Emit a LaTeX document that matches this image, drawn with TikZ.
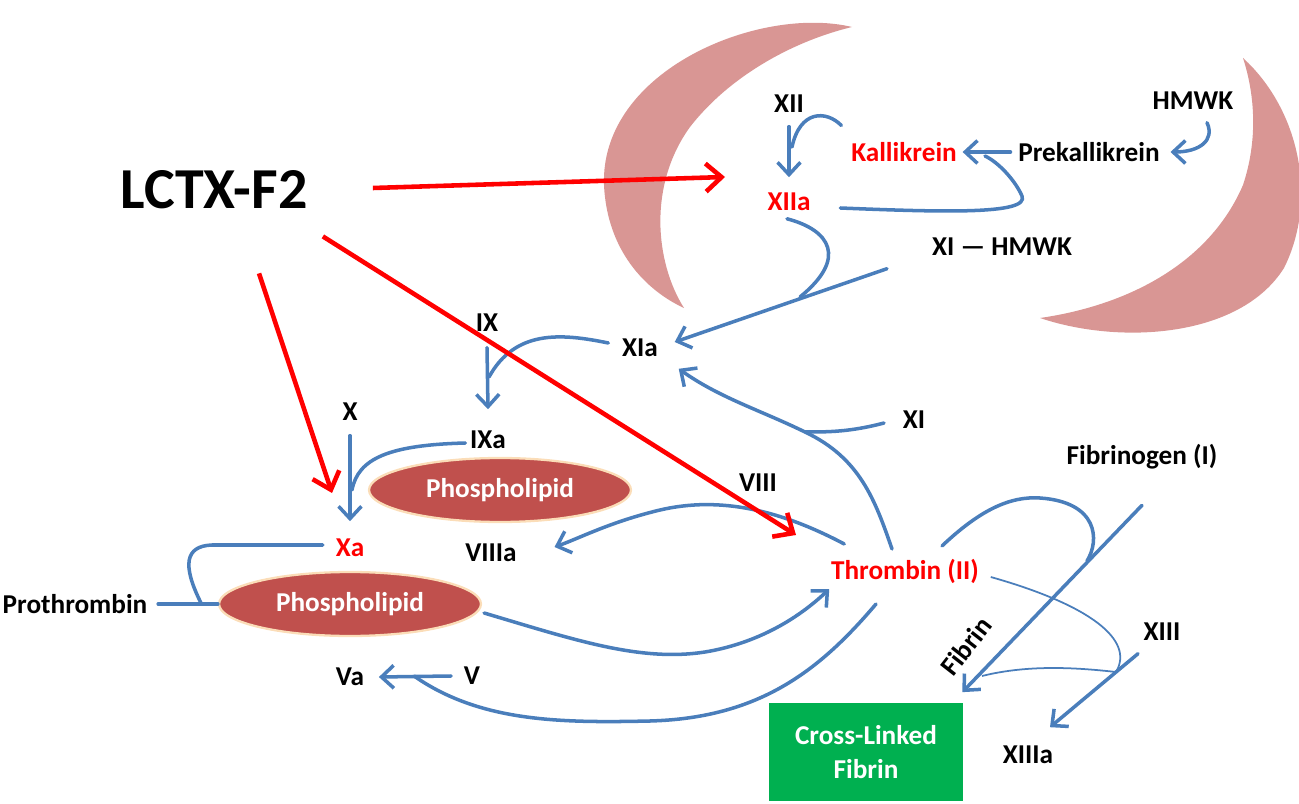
\documentclass[tikz,border=0pt]{standalone}
\usepackage{fontspec}
\setmainfont{Carlito}
\usepackage{tikz}
\usetikzlibrary{arrows.meta,shapes.geometric}

\definecolor{blueline}{HTML}{4A7EBB}
\definecolor{moon}{HTML}{D99694}
\definecolor{lipidred}{HTML}{C0504D}
\definecolor{lipidedge}{HTML}{FBDDB8}
\definecolor{fibgreen}{HTML}{00B050}

\begin{document}
\begin{tikzpicture}[x=0.02cm,y=-0.02cm,
  >={Straight Barb[length=7pt,width=13pt]},
  lab/.style={font=\fontsize{15.5}{18}\selectfont\bfseries, inner sep=2pt},
  hot/.style={lab, text=red},
  flow/.style={draw=blueline, line width=2pt, line cap=round},
  thinflow/.style={draw=blueline, line width=1pt},
  tox/.style={draw=red, line width=2.6pt, -{Straight Barb[length=9pt,width=16pt]}},
  lipid/.style={ellipse, fill=lipidred, draw=lipidedge, line width=1.3pt,
    minimum width=5.24cm, minimum height=1.28cm, text=white,
    font=\fontsize{15.5}{18}\selectfont\bfseries}]

\useasboundingbox (0,0) rectangle (1299,804);

% the two crescents
\fill[moon] (852,27) .. controls (760,5) and (600,70) .. (604,185)
  .. controls (607,250) and (645,290) .. (684,308)
  .. controls (655,262) and (648,185) .. (690,127)
  .. controls (728,78) and (790,42) .. cycle;
\fill[moon] (1243,58) .. controls (1300,110) and (1318,200) .. (1284,268)
  .. controls (1240,338) and (1120,345) .. (1040,318)
  .. controls (1130,305) and (1210,262) .. (1243,185)
  .. controls (1258,140) and (1255,95) .. cycle;

\node[font=\fontsize{33}{36}\selectfont\bfseries] (LCTX) at (214,190) {LCTX-F2};

\node[lab] (XII) at (789,104) {XII};
\node[hot] (Kall) at (904,152) {Kallikrein};
\node[lab] (Prek) at (1089,152) {Prekallikrein};
\node[lab] (HMWK) at (1193,101) {HMWK};
\node[hot] (XIIa) at (789,202) {XIIa};
\node[lab] (XIHMWK) at (1002,247) {XI — HMWK};

\node[lab] (IX) at (487,323) {IX};
\node[lab] (XIa) at (640,348) {XIa};
\node[lab] (X) at (350,412) {X};
\node[lab] (IXa) at (488,440) {IXa};
\node[lipid] (Phos1) at (500,490) {Phospholipid};
\node[hot] (Xa) at (350,548) {Xa};
\node[lab] (VIIIa) at (491,553) {VIIIa};
\node[lab] (VIII) at (758,483) {VIII};
\node[lab] (XI) at (914,420) {XI};
\node[lab] (Fibg) at (1142,457) {Fibrinogen (I)};
\node[hot] (Thr) at (905,571) {Thrombin (II)};
\node[lab] (Proth) at (75,604) {Prothrombin};
\node[lipid] (Phos2) at (350,604) {Phospholipid};
\node[lab] (Va) at (350,677) {Va};
\node[lab] (V) at (472,676) {V};
\node[lab] (XIII) at (1162,632) {XIII};
\node[lab, rotate=52, inner sep=0pt] (Fibrin) at (966,646) {Fibrin};
\node[fill=fibgreen, minimum width=3.88cm, minimum height=1.98cm, text=white, align=center,
  font=\fontsize{15.5}{19}\selectfont\bfseries] (CLF) at (866,752) {Cross-Linked\\Fibrin};
\node[lab] (XIIIa) at (1028,755) {XIIIa};

% junctions
\coordinate (kx) at (792,147);
\coordinate (kp) at (985,156);
\coordinate (xj) at (800,297);
\coordinate (ij) at (489,377);
\coordinate (xaj) at (352,490);
\coordinate (pj) at (201,603);
\coordinate (xk) at (805,432);
\coordinate (vj) at (414,676);
\coordinate (fj) at (1087,561);
\coordinate (tj) at (1116,672);
\coordinate (fk) at (982,676);

% contact pathway
\draw[flow,->] ([shift={(0,10)}]XII.south) -- ([shift={(0,-12)}]XIIa.north);
\draw[flow] ([shift={(-6,-13)}]Kall.north west) .. controls (826,110) and (800,110) .. (kx);
\draw[flow,->] ([shift={(-4,0)}]Prek.west) -- ([shift={(2,0)}]Kall.east);
\draw[flow] ([shift={(26,6)}]XIIa.east) .. controls (940,212) and (1030,215) .. (1022,196)
  .. controls (1015,180) and (998,162) .. (kp);
\draw[flow,->] ([shift={(14,9)}]HMWK.south) .. controls (1215,140) and (1200,152) .. ([shift={(7,0)}]Prek.east);
\draw[flow] ([shift={(-2,4)}]XIIa.south) .. controls (830,230) and (848,258) .. (xj);
\draw[flow,->] ([shift={(-115,9)}]XIHMWK.south) -- ([shift={(13,-6)}]XIa.east);

% tenase
\draw[flow,->] ([shift={(0,12)}]IX.south) -- ([shift={(0,-18)}]IXa.north);
\draw[flow] ([shift={(-10,-5)}]XIa.west) .. controls (560,333) and (515,330) .. (ij);
\draw[flow,->] ([shift={(0,11)}]X.south) -- ([shift={(0,-14)}]Xa.north);
\draw[flow] ([shift={(-1,3)}]IXa.west) .. controls (390,445) and (358,458) .. (xaj);

% prothrombinase
\draw[flow] ([shift={(-9,-3)}]Xa.west) -- (212,545) .. controls (185,546) and (182,565) .. (pj);
\draw[flow] ([shift={(7,0)}]Proth.east) -- (Phos2.west);
\draw[flow,->] ([shift={(2,9)}]Phos2.east) .. controls (575,640) and (640,662) .. (705,652)
  .. controls (765,642) and (805,612) .. ([shift={(2,2)}]Thr.south west);

% thrombin feedback
\draw[flow,->] ([shift={(17,-11)}]Thr.north west) .. controls (780,510) and (720,496) .. (660,510)
  .. controls (610,522) and (580,538) .. ([shift={(34,-6)}]VIIIa.east);
\draw[flow,->] ([shift={(-13,-6)}]Thr.north) .. controls (875,500) and (860,458) .. (xk)
  .. controls (760,410) and (720,398) .. ([shift={(17,8)}]XIa.south east);
\draw[flow] ([shift={(-15,3)}]XI.west) .. controls (850,432) and (828,432) .. (xk);
\draw[flow] ([shift={(-29,17)}]Thr.south) .. controls (820,670) and (760,718) .. (650,721)
  .. controls (560,723) and (480,722) .. (vj);
\draw[flow,->] ([shift={(-9,0)}]V.west) -- ([shift={(11,0)}]Va.east);

% fibrin
\draw[flow] ([shift={(37,-9)}]Thr.north) .. controls (980,510) and (1010,496) .. (1040,498)
  .. controls (1098,502) and (1100,540) .. (fj);
\draw[flow,->] ([shift={(0,32)}]Fibg.south) -- ([shift={(-1,-10)}]CLF.north east);
\draw[thinflow] ([shift={(8,6)}]Thr.east) .. controls (1090,605) and (1135,640) .. (tj)
  .. controls (1080,668) and (1030,664) .. (fk);
\draw[flow,->] ([shift={(-24,9)}]XIII.south) -- ([shift={(22,-15)}]XIIIa.north);

% LCTX-F2 targets
\coordinate (r1) at (725,177);
\coordinate (r2) at (796,535);
\coordinate (r3) at (332,493);
\draw[tox] ([shift={(59,-2)}]LCTX.east) -- (r1);
\draw[tox] ([shift={(9,21)}]LCTX.south east) -- (r2);
\draw[tox] ([shift={(45,58)}]LCTX.south) -- (r3);

\end{tikzpicture}
\end{document}
